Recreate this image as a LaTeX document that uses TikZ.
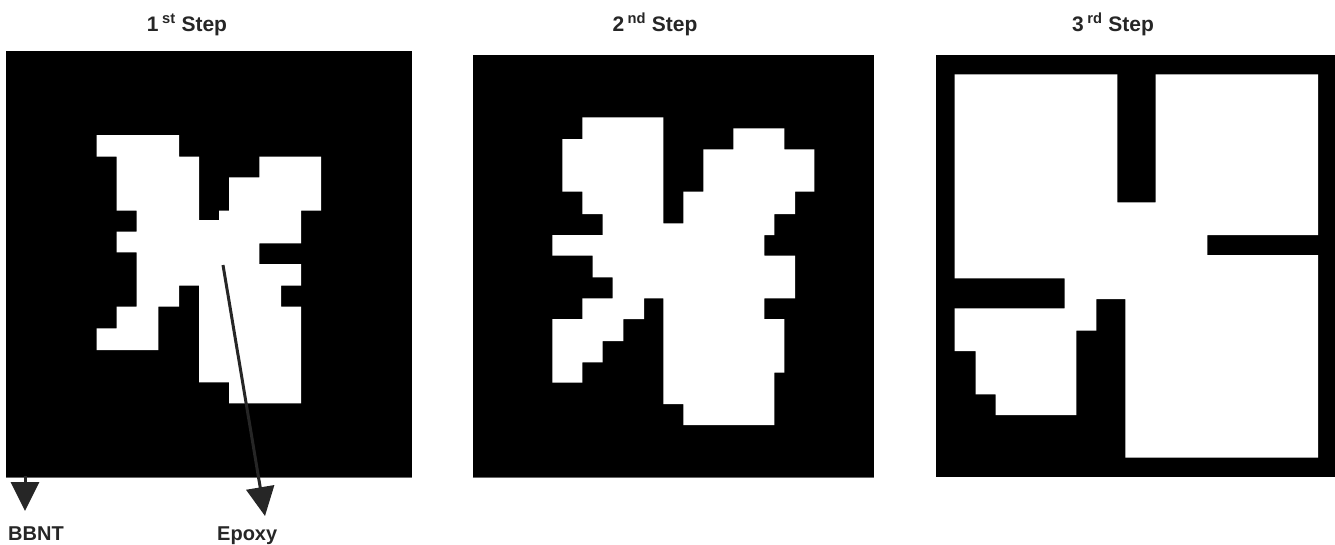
\documentclass[tikz,border=0pt]{standalone}
\usepackage{fontspec}
\setmainfont{Liberation Sans}
\usetikzlibrary{arrows.meta}
\tikzset{
  panel/.style={fill=black},
  grain/.style={fill=white},
  edgeline/.style={draw=black!60, line width=1.2pt},
  title/.style={font=\fontsize{21}{25}\selectfont\bfseries, anchor=base, inner sep=0pt, text=black!85},
  label/.style={font=\fontsize{20}{24}\selectfont\bfseries, anchor=base west, inner sep=0pt, text=black!85},
  pointer/.style={draw=black!85, line width=3pt, -{Triangle[width=28pt,length=29pt]}}
}
\begin{document}
\begin{tikzpicture}[x=1pt,y=-1pt]
\useasboundingbox (0,0) rectangle (1335,544);
% titles
\node[title] (t1) at (187,31) {1\,\textsuperscript{st} Step};
\node[title] (t2) at (655,31) {2\,\textsuperscript{nd} Step};
\node[title] (t3) at (1113,31) {3\,\textsuperscript{rd} Step};
% panel 1
\fill[panel] (6,51) rectangle (412,477);
\draw[edgeline] (6,477.3) -- (412,477.3);
\fill[grain] (96.7,135) -- (179,135) -- (179,156.7) -- (199,156.7) -- (199,220) -- (219,220) -- (219,210.7) -- (229,210.7) -- (229,177.3) -- (259.3,177.3) -- (259.3,156.7) -- (321,156.7) -- (321,210.7) -- (301,210.7) -- (301,243.3) -- (259.3,243.3) -- (259.3,264) -- (301,264) -- (301,285.7) -- (281,285.7) -- (281,306.7) -- (301,306.7) -- (301,403.3) -- (229,403.3) -- (229,382.3) -- (199,382.3) -- (199,285.7) -- (179,285.7) -- (179,306.7) -- (158.3,306.7) -- (158.3,350) -- (96.7,350) -- (96.7,328.3) -- (116.7,328.3) -- (116.7,306.7) -- (136.7,306.7) -- (136.7,252.3) -- (116.7,252.3) -- (116.7,231.7) -- (136.7,231.7) -- (136.7,210.7) -- (116.7,210.7) -- (116.7,156.7) -- (96.7,156.7) -- cycle;
% panel 2
\fill[panel] (472.7,55) rectangle (874,477);
\draw[edgeline] (472.7,477.3) -- (874,477.3);
\fill[grain] (582.3,117.3) -- (663.3,117.3) -- (663.3,223.3) -- (683.3,223.3) -- (683.3,191.7) -- (703.3,191.7) -- (703.3,149.3) -- (733.3,149.3) -- (733.3,128.3) -- (784.3,128.3) -- (784.3,149.3) -- (814.3,149.3) -- (814.3,191.7) -- (795,191.7) -- (795,214) -- (774.3,214) -- (774.3,235) -- (764.3,235) -- (764.3,255.7) -- (795,255.7) -- (795,298.3) -- (764.3,298.3) -- (764.3,319) -- (784.3,319) -- (784.3,372.7) -- (774.3,372.7) -- (774.3,425) -- (683.3,425) -- (683.3,404) -- (663.3,404) -- (663.3,298.3) -- (644,298.3) -- (644,319) -- (623.3,319) -- (623.3,341) -- (602.7,341) -- (602.7,362.3) -- (582.3,362.3) -- (582.3,382.7) -- (552.3,382.7) -- (552.3,319) -- (582.3,319) -- (582.3,298.3) -- (612.7,298.3) -- (612.7,277.3) -- (592.7,277.3) -- (592.7,255.7) -- (552.3,255.7) -- (552.3,235) -- (602.7,235) -- (602.7,214) -- (582.3,214) -- (582.3,191.7) -- (562.3,191.7) -- (562.3,139) -- (582.3,139) -- cycle;
% panel 3
\fill[panel] (935.7,55) rectangle (1335,477.3);
\fill[grain] (954.7,74.3) -- (1117.3,74.3) -- (1117.3,202.3) -- (1155.7,202.3) -- (1155.7,74.3) -- (1318,74.3) -- (1318,235) -- (1207.3,235) -- (1207.3,255) -- (1318,255) -- (1318,457.7) -- (1125.3,457.7) -- (1125.3,299) -- (1096.3,299) -- (1096.3,330.7) -- (1076.3,330.7) -- (1076.3,415) -- (995.7,415) -- (995.7,394.3) -- (975.7,394.3) -- (975.7,351) -- (954.7,351) -- (954.7,308.3) -- (1064.7,308.3) -- (1064.7,278.3) -- (954.7,278.3) -- cycle;
% labels and pointers
\node[label] (bbnt) at (8,540) {BBNT};
\node[label] (epoxy) at (217,540) {Epoxy};
\coordinate (bbntstart) at (25,476);
\coordinate (bbnttip) at (25,511);
\coordinate (epoxystart) at (223,265);
\coordinate (epoxytip) at (265,516);
\draw[pointer] (bbntstart) -- (bbnttip);
\draw[pointer] (epoxystart) -- (epoxytip);
\end{tikzpicture}
\end{document}
